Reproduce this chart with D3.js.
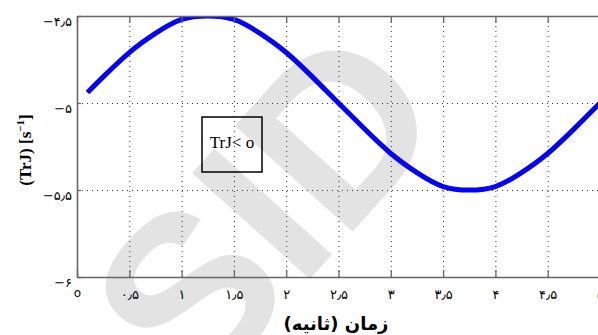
<!DOCTYPE html>
<html>
<head>
<meta charset="utf-8">
<script src="https://cdn.jsdelivr.net/npm/d3@7"></script>
<style>
  body { margin: 0; background: #fff; }
  svg { display: block; }
</style>
</head>
<body>
<svg id="chart" width="598" height="335"></svg>
<script>
// values
var timeVals = [0.1, 0.25, 0.5, 0.75, 1.0, 1.25, 1.5, 1.75, 2.0, 2.25, 2.5, 2.75, 3.0, 3.25, 3.5, 3.75, 4.0, 4.25, 4.5, 4.75, 5.0];
var trjVals  = [-4.94, -4.85, -4.71, -4.60, -4.52, -4.50, -4.52, -4.60, -4.71, -4.85, -5.00, -5.15, -5.29, -5.40, -5.48, -5.50, -5.48, -5.40, -5.29, -5.15, -5.00];
var xTicks = [0, 0.5, 1, 1.5, 2, 2.5, 3, 3.5, 4, 4.5, 5];
var yTicks = [-4.5, -5, -5.5, -6];
var xTitle = "زمان (ثانیه)";
var boxText = "TrJ< o";

var margin = {top: 16, right: -2, bottom: 58, left: 77};
var width = 598, height = 335;
var plotW = 600 - margin.left;     // the frame runs a little past the window
var plotH = height - margin.top - margin.bottom;

var svg = d3.select("#chart");

function fa(v){
  var s = String(Math.abs(v)).replace(".", "٫");
  s = s.replace(/[0-9]/g, function(c){ return "۰۱۲۳۴۵۶۷۸۹"[+c]; });
  return (v < 0 ? "−" : "") + s;
}

// watermark
svg.append("text")
  .attr("transform", "translate(325,262) rotate(-48)")
  .attr("text-anchor", "middle")
  .attr("font-family", "Liberation Sans, Arial")
  .attr("font-weight", "bold")
  .attr("font-size", 230)
  .attr("fill", "#e3e3e3")
  .text("SID");

var x = d3.scaleLinear().domain([0, 5]).range([0, plotW]);
var y = d3.scaleLinear().domain([-6, -4.5]).range([plotH, 0]);

var g = svg.append("g").attr("transform", "translate(" + margin.left + "," + margin.top + ")");

// dotted grid
g.append("g").attr("class", "grid")
  .attr("transform", "translate(0," + plotH + ")")
  .call(d3.axisBottom(x).tickValues(xTicks).tickSize(-plotH).tickFormat(""))
  .call(function(a){ a.select(".domain").remove(); });
g.append("g").attr("class", "grid")
  .call(d3.axisLeft(y).tickValues(yTicks).tickSize(-plotW).tickFormat(""))
  .call(function(a){ a.select(".domain").remove(); });
g.selectAll(".grid line")
  .attr("stroke", "#333")
  .attr("stroke-width", 1)
  .attr("stroke-dasharray", "1,4");

// text box
var bx = 202 - margin.left, by = 117 - margin.top;
g.append("rect")
  .attr("x", bx).attr("y", by)
  .attr("width", 60).attr("height", 55)
  .attr("fill", "none")
  .attr("stroke", "#000")
  .attr("stroke-width", 1.5);
g.append("text")
  .attr("x", bx + 30).attr("y", by + 31)
  .attr("text-anchor", "middle")
  .attr("font-family", "Liberation Serif, Times New Roman")
  .attr("font-size", 17)
  .text(boxText);

// curve
g.append("clipPath").attr("id", "clip")
  .append("rect").attr("width", plotW).attr("height", plotH);

var line = d3.line()
  .x(function(d, i){ return x(timeVals[i]); })
  .y(function(d){ return y(d); })
  .curve(d3.curveNatural);

g.append("path")
  .datum(trjVals)
  .attr("clip-path", "url(#clip)")
  .attr("fill", "none")
  .attr("stroke", "#0000ff")
  .attr("stroke-width", 5)
  .attr("d", line);

// axes with inward ticks
var axCol = "#666";
var xAxis = g.append("g")
  .attr("transform", "translate(0," + plotH + ")")
  .call(d3.axisBottom(x).tickValues(xTicks).tickSizeInner(-7).tickSizeOuter(0).tickPadding(13).tickFormat(fa));
var xTop = g.append("g")
  .call(d3.axisTop(x).tickValues(xTicks).tickSizeInner(-7).tickSizeOuter(0).tickFormat(""));
var yAxis = g.append("g")
  .call(d3.axisLeft(y).tickValues(yTicks).tickSizeInner(0).tickSizeOuter(0).tickPadding(5).tickFormat(fa));

[xAxis, xTop, yAxis].forEach(function(a){
  a.select(".domain").attr("stroke", axCol).attr("stroke-width", 1.6);
  a.selectAll(".tick line").attr("stroke", axCol).attr("stroke-width", 1.3);
  a.selectAll("text")
    .attr("font-family", "DejaVu Sans")
    .attr("font-size", 13)
    .attr("fill", "#000");
});
// the lone zero is drawn as a small ring in the reference
xAxis.selectAll(".tick text").filter(function(d){ return d === 0; })
  .attr("font-size", 12).attr("dy", "0.6em").text("ο");
yAxis.selectAll("text").attr("dy", "0.72em");
yAxis.selectAll(".tick").append("line")
  .attr("x1", 0).attr("x2", 4)
  .attr("stroke", axCol).attr("stroke-width", 1.3);

// axis titles
svg.append("text")
  .attr("x", 336).attr("y", 330)
  .attr("text-anchor", "middle")
  .attr("font-family", "DejaVu Sans")
  .attr("font-weight", "bold")
  .attr("font-size", 18)
  .attr("direction", "rtl")
  .text(xTitle);

var yt = svg.append("text")
  .attr("transform", "translate(31,150) rotate(-90)")
  .attr("text-anchor", "middle")
  .attr("font-family", "Liberation Serif, Times New Roman")
  .attr("font-weight", "bold")
  .attr("font-size", 17);
yt.append("tspan").text("(TrJ) [s");
yt.append("tspan").attr("dy", -7).attr("font-size", 11).text("−1");
yt.append("tspan").attr("dy", 7).text("]");
</script>
</body>
</html>
